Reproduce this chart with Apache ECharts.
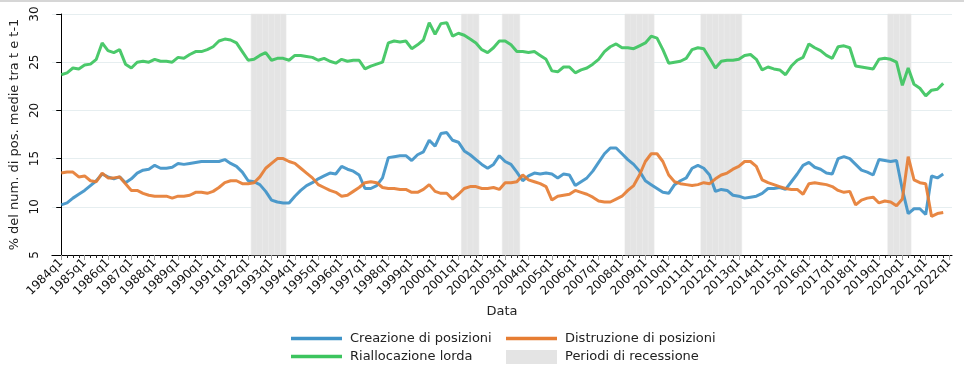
<!DOCTYPE html>
<html>
<head>
<meta charset="utf-8">
<script src="https://cdn.jsdelivr.net/npm/echarts@6/dist/echarts.min.js"></script>
<style>html,body{margin:0;padding:0;background:#fff}#c{width:964px;height:378px}</style>
</head>
<body>
<div id="c"></div>
<script>
// Tick labels (first quarter of every year)
const tickLabels = ['1984q1','1985q1','1986q1','1987q1','1988q1','1989q1','1990q1','1991q1','1992q1','1993q1',
  '1994q1','1995q1','1996q1','1997q1','1998q1','1999q1','2000q1','2001q1','2002q1','2003q1','2004q1','2005q1',
  '2006q1','2007q1','2008q1','2009q1','2010q1','2011q1','2012q1','2013q1','2014q1','2015q1','2016q1','2017q1',
  '2018q1','2019q1','2020q1','2021q1','2022q1'];

// Quarterly series, 1984q1 .. 2021q4
const creazione = [
  10.2,10.4,10.9,11.3,11.7,12.2,12.7,13.4,13.1,12.9,13.1,12.5,12.9,13.5,13.8,13.9,14.3,14.0,14.0,14.1,14.5,
  14.4,14.5,14.6,14.7,14.7,14.7,14.7,14.9,14.5,14.2,13.6,12.7,12.6,12.3,11.6,10.7,10.5,10.4,10.4,11.1,11.7,12.2,
  12.5,12.9,13.2,13.5,13.4,14.2,13.9,13.7,13.3,11.9,11.9,12.2,13.0,15.1,15.2,15.3,15.3,14.8,15.4,15.7,16.9,
  16.3,17.6,17.7,16.9,16.7,15.8,15.4,14.9,14.4,14.0,14.4,15.3,14.7,14.4,13.6,12.7,13.2,13.5,13.4,13.5,13.4,
  13.0,13.4,13.3,12.2,12.6,13.0,13.7,14.6,15.5,16.1,16.1,15.5,14.9,14.4,13.7,12.7,12.3,11.9,11.5,11.4,12.3,12.7,
  13.0,14.0,14.3,14.0,13.3,11.6,11.8,11.7,11.2,11.1,10.9,11.0,11.1,11.4,11.9,11.9,12.0,11.8,12.6,13.4,14.3,
  14.6,14.1,13.9,13.5,13.4,15.0,15.2,15.0,14.4,13.8,13.6,13.3,14.9,14.8,14.7,14.8,11.8,9.3,9.8,9.8,9.2,13.2,13.0,13.4
];
const distruzione = [
  13.5,13.6,13.6,13.1,13.2,12.7,12.6,13.5,13.0,13.0,13.1,12.4,11.7,11.7,11.4,11.2,11.1,11.1,11.1,10.9,11.1,
  11.1,11.2,11.5,11.5,11.4,11.6,12.0,12.5,12.7,12.7,12.4,12.4,12.5,13.1,14.0,14.5,15.0,15.0,14.7,14.5,14.0,13.5,
  13.0,12.3,12.0,11.7,11.5,11.1,11.2,11.6,12.0,12.5,12.6,12.5,12.0,11.9,11.9,11.8,11.8,11.5,11.5,11.8,12.3,
  11.6,11.4,11.4,10.8,11.3,11.9,12.1,12.1,11.9,11.9,12.0,11.8,12.5,12.5,12.6,13.3,12.8,12.6,12.4,12.1,10.7,
  11.1,11.2,11.3,11.7,11.5,11.3,11.0,10.6,10.5,10.5,10.8,11.1,11.7,12.2,13.3,14.7,15.5,15.5,14.7,13.3,12.6,12.4,
  12.3,12.2,12.3,12.5,12.4,12.9,13.3,13.5,13.9,14.2,14.7,14.7,14.2,12.8,12.5,12.3,12.1,11.9,11.8,11.8,11.3,
  12.4,12.5,12.4,12.3,12.1,11.7,11.5,11.6,10.2,10.7,10.9,11.0,10.4,10.6,10.5,10.1,10.8,15.2,12.8,12.5,12.4,9.0,9.3,9.4
];
const riallocazione = [
  23.7,23.9,24.4,24.3,24.7,24.8,25.3,27.0,26.2,26.0,26.3,24.8,24.4,25.0,25.1,25.0,25.3,25.1,25.1,25.0,25.5,
  25.4,25.8,26.1,26.1,26.3,26.6,27.2,27.4,27.3,27.0,26.1,25.2,25.3,25.7,26.0,25.2,25.4,25.4,25.2,25.7,25.7,25.6,
  25.5,25.2,25.4,25.1,24.9,25.3,25.1,25.2,25.2,24.3,24.6,24.8,25.0,27.0,27.2,27.1,27.2,26.4,26.8,27.3,29.1,
  27.9,29.0,29.1,27.7,28.0,27.8,27.4,27.0,26.3,26.0,26.5,27.2,27.2,26.8,26.1,26.1,26.0,26.1,25.7,25.3,24.1,
  24.0,24.5,24.5,23.9,24.2,24.4,24.8,25.3,26.1,26.6,26.9,26.5,26.5,26.4,26.7,27.0,27.7,27.5,26.3,24.9,25.0,25.1,
  25.4,26.3,26.5,26.4,25.4,24.4,25.1,25.2,25.2,25.3,25.7,25.8,25.3,24.2,24.5,24.3,24.2,23.7,24.6,25.2,25.5,
  26.9,26.5,26.2,25.7,25.4,26.6,26.7,26.5,24.6,24.5,24.4,24.3,25.3,25.4,25.3,25.0,22.6,24.4,22.7,22.3,21.5,22.1,22.2,22.8
];

// Recession periods (first and last quarter)
const recessioni = [
  ['1992q2','1993q3'], ['2001q2','2001q4'], ['2003q1','2003q3'],
  ['2008q2','2009q2'], ['2011q3','2013q1'], ['2019q3','2020q2']
];

const quarterIdx = s => (parseInt(s.slice(0,4),10) - 1984) * 4 + parseInt(s.slice(5),10) - 1;
const recessionData = [];
recessioni.forEach(r => { for (let q = quarterIdx(r[0]); q <= quarterIdx(r[1]); q++) recessionData.push([q]); });
const toPts = arr => arr.map((v, i) => [i, v]);

const yearTicks = tickLabels.map((_, k) => k * 4);
const quarterTicks = [];
for (let q = 0; q <= 152; q++) quarterTicks.push(q);

const FONT = 'DejaVu Sans';
const LINE_ICON = 'path://M0,0H51V3.5H0Z';
const chart = echarts.init(document.getElementById('c'), null, {renderer: 'canvas'});

const grid = {left: 48, right: 12, top: 14, bottom: 123};
const xMin = -1.6, xMax = 152.5;
const legendBase = {top: 332, padding: 0, orient: 'vertical', itemGap: 5, itemWidth: 51, itemHeight: 14,
  textStyle: {fontFamily: FONT, fontSize: 13, color: '#222', padding: [0,0,0,3]}, selectedMode: false};

chart.setOption({
  animation: false,
  textStyle: {fontFamily: FONT},
  graphic: [{type: 'rect', left: 0, top: 0, shape: {width: 964, height: 2}, style: {fill: '#d6d6d6'}, silent: true}],
  grid: grid,
  legend: [
    Object.assign({left: 291, data: [{name: 'Creazione di posizioni', icon: LINE_ICON},
                                     {name: 'Riallocazione lorda', icon: LINE_ICON}]}, legendBase),
    Object.assign({left: 506, data: [{name: 'Distruzione di posizioni', icon: LINE_ICON},
                                     {name: 'Periodi di recessione', icon: 'rect'}]}, legendBase)
  ],
  xAxis: [
    {type: 'value', min: xMin, max: xMax, position: 'bottom',
     name: 'Data', nameLocation: 'middle', nameGap: 49,
     nameTextStyle: {fontFamily: FONT, fontSize: 13, color: '#222'},
     axisLine: {show: true, lineStyle: {color: '#000', width: 1}},
     axisTick: {show: true, customValues: quarterTicks, length: 3, lineStyle: {color: '#222'}},
     axisLabel: {show: true, customValues: yearTicks, rotate: 45, margin: 6, fontSize: 12, color: '#111',
       fontFamily: FONT, formatter: v => tickLabels[Math.round(v / 4)]},
     splitLine: {show: false}},
    {type: 'value', min: xMin, max: xMax, position: 'bottom',
     axisLine: {show: false},
     axisTick: {show: true, customValues: yearTicks, length: 5, lineStyle: {color: '#999'}},
     axisLabel: {show: false}, splitLine: {show: false}}
  ],
  yAxis: {
    type: 'value', min: 5, max: 30, interval: 5,
    name: '% del num. di pos. medie tra t e t-1', nameLocation: 'middle', nameGap: 21,
    nameTextStyle: {fontFamily: FONT, fontSize: 13, color: '#222'},
    axisLine: {show: true, lineStyle: {color: '#000', width: 1}},
    axisTick: {show: true, length: 5, lineStyle: {color: '#000'}},
    axisLabel: {rotate: 90, margin: 11, fontSize: 12, color: '#111', fontFamily: FONT},
    splitLine: {show: true, lineStyle: {color: '#e6eef0', width: 1}}
  },
  series: [
    {name: 'Periodi di recessione', type: 'custom', xAxisIndex: 0, z: 1,
     itemStyle: {color: '#e4e4e4'},
     renderItem: function (params, api) {
       const q = api.value(0);
       const p0 = api.coord([q - 0.5, 30]);
       const p1 = api.coord([q + 0.5, 5]);
       return {type: 'rect', shape: {x: p0[0], y: p0[1], width: p1[0] - p0[0], height: p1[1] - p0[1]},
               style: {fill: '#e4e4e4', stroke: '#e9e9e9', lineWidth: 0.5}};
     },
     data: recessionData},
    {name: 'Creazione di posizioni', type: 'line', xAxisIndex: 0, z: 3, symbol: 'none',
     lineStyle: {width: 3, color: '#3f93c8', opacity: 0.92}, itemStyle: {color: '#3f93c8'},
     data: toPts(creazione)},
    {name: 'Distruzione di posizioni', type: 'line', xAxisIndex: 0, z: 3, symbol: 'none',
     lineStyle: {width: 3, color: '#e67d33', opacity: 0.92}, itemStyle: {color: '#e67d33'},
     data: toPts(distruzione)},
    {name: 'Riallocazione lorda', type: 'line', xAxisIndex: 0, z: 3, symbol: 'none',
     lineStyle: {width: 3, color: '#3cc45e', opacity: 0.92}, itemStyle: {color: '#3cc45e'},
     data: toPts(riallocazione)}
  ]
});
</script>
</body>
</html>
